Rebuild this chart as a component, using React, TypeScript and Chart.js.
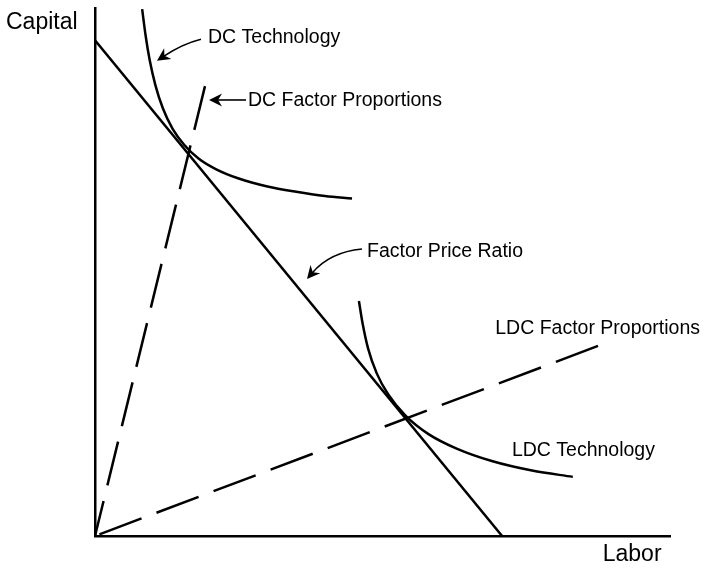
import React, { useEffect, useRef } from "react";
import { Chart, registerables } from "chart.js";

Chart.register(...registerables);

// Axis ranges (abstract units: Labor on x, Capital on y)
const xRange = [0, 10];
const yRange = [0, 10];

// Factor price ratio (isocost line)
const priceRatioX = [0, 7.08];
const priceRatioY = [9.39, 0];

// DC factor proportions ray (drawn from top to origin)
const dcRayX = [1.913, 0];
const dcRayY = [8.52, 0];

// LDC factor proportions ray (drawn from far end to origin)
const ldcRayX = [8.748, 0];
const ldcRayY = [3.6, 0];

// DC technology isoquant
const dcTechX = [0.82, 0.88, 0.95, 1.05, 1.18, 1.35, 1.55, 1.8, 2.1, 2.5, 3.0, 3.5, 4.0, 4.47];
const dcTechY = [9.98, 9.48, 9.02, 8.54, 8.1, 7.71, 7.41, 7.15, 6.95, 6.77, 6.62, 6.52, 6.44, 6.39];

// LDC technology isoquant
const ldcTechX = [4.59, 4.65, 4.75, 4.9, 5.1, 5.4, 5.8, 6.3, 6.9, 7.6, 8.31];
const ldcTechY = [4.45, 4.05, 3.55, 3.08, 2.68, 2.28, 1.93, 1.65, 1.42, 1.24, 1.12];

// Labels
const labelTexts = ["DC Technology", "DC Factor Proportions", "Factor Price Ratio", "LDC Factor Proportions", "LDC Technology"];
const axisTitles = ["Capital", "Labor"];

const pts = (xs: number[], ys: number[]) => xs.map((x, i) => ({ x, y: ys[i] }));

export default function App() {
  const ref = useRef<HTMLCanvasElement | null>(null);

  useEffect(() => {
    if (!ref.current) return;

    const annot = {
      id: "annot",
      afterDraw(chart: any) {
        const ctx = chart.ctx;
        const xs = chart.scales.x;
        const ys = chart.scales.y;
        const X = (v: number) => xs.getPixelForValue(v);
        const Y = (v: number) => ys.getPixelForValue(v);
        ctx.save();
        ctx.fillStyle = "#000";
        ctx.strokeStyle = "#000";
        ctx.textAlign = "left";
        ctx.textBaseline = "alphabetic";

        // axis titles
        ctx.font = '23px "Liberation Sans", Arial, sans-serif';
        ctx.fillText(axisTitles[0], X(-1.548), Y(9.6));
        ctx.fillText(axisTitles[1], X(8.83), Y(-0.473));

        // annotation labels
        ctx.font = '19.5px "Liberation Sans", Arial, sans-serif';
        const labelPos = [
          [1.965, 9.34],
          [2.66, 8.14],
          [4.73, 5.28],
          [6.96, 3.83],
          [7.25, 1.52],
        ];
        labelTexts.forEach((t, i) => ctx.fillText(t, X(labelPos[i][0]), Y(labelPos[i][1])));

        // arrows: start, control, tip
        const arrows = [
          [[1.843, 9.41], [1.513, 9.32], [1.078, 9.0]],
          [[2.626, 8.258], [2.3, 8.258], [1.983, 8.258]],
          [[4.643, 5.436], [4.087, 5.379], [3.687, 4.867]],
        ];
        ctx.lineWidth = 1.6;
        arrows.forEach(([s, c, e]) => {
          const sx = X(s[0]), sy = Y(s[1]);
          const cx = X(c[0]), cy = Y(c[1]);
          const ex = X(e[0]), ey = Y(e[1]);
          const ang = Math.atan2(ey - cy, ex - cx);
          const len = 13;
          const hw = 6.5;
          const notch = 4;
          const cos = Math.cos(ang), sin = Math.sin(ang);
          const bx = ex - len * cos;
          const by = ey - len * sin;
          ctx.beginPath();
          ctx.moveTo(sx, sy);
          ctx.quadraticCurveTo(cx, cy, bx + (notch + 1) * cos, by + (notch + 1) * sin);
          ctx.stroke();
          const nx = -sin, ny = cos;
          ctx.beginPath();
          ctx.moveTo(ex, ey);
          ctx.lineTo(bx + hw * nx, by + hw * ny);
          ctx.lineTo(bx + notch * cos, by + notch * sin);
          ctx.lineTo(bx - hw * nx, by - hw * ny);
          ctx.closePath();
          ctx.fill();
        });
        ctx.restore();
      },
    };

    const common = {
      showLine: true,
      pointRadius: 0,
      borderColor: "#000",
      backgroundColor: "#000",
      fill: false,
    };

    const chart = new Chart(ref.current, {
      type: "scatter",
      data: {
        datasets: [
          { ...common, label: "Factor Price Ratio", data: pts(priceRatioX, priceRatioY), borderWidth: 2.5, tension: 0 },
          { ...common, label: "DC Factor Proportions", data: pts(dcRayX, dcRayY), borderWidth: 2.5, borderDash: [45, 16], tension: 0 },
          { ...common, label: "LDC Factor Proportions", data: pts(ldcRayX, ldcRayY), borderWidth: 2.5, borderDash: [45, 16], tension: 0 },
          { ...common, label: "DC Technology", data: pts(dcTechX, dcTechY), borderWidth: 2.5, cubicInterpolationMode: "monotone" },
          { ...common, label: "LDC Technology", data: pts(ldcTechX, ldcTechY), borderWidth: 2.5, cubicInterpolationMode: "monotone" },
        ],
      } as any,
      options: {
        animation: false,
        responsive: true,
        maintainAspectRatio: false,
        layout: { padding: { left: 95, right: 35, top: 8, bottom: 33 } },
        plugins: { legend: { display: false }, tooltip: { enabled: false }, title: { display: false } },
        events: [],
        scales: {
          x: {
            type: "linear",
            min: xRange[0],
            max: xRange[1],
            grid: { display: false, drawTicks: false },
            ticks: { display: false },
            border: { display: true, color: "#000", width: 2.5 },
          },
          y: {
            type: "linear",
            min: yRange[0],
            max: yRange[1],
            grid: { display: false, drawTicks: false },
            ticks: { display: false },
            border: { display: true, color: "#000", width: 2.5 },
          },
        },
      } as any,
      plugins: [annot],
    });

    return () => chart.destroy();
  }, []);

  return (
    <div style={{ position: "fixed", left: 0, top: 0, width: 705, height: 569, background: "#fff" }}>
      <canvas ref={ref} />
    </div>
  );
}
